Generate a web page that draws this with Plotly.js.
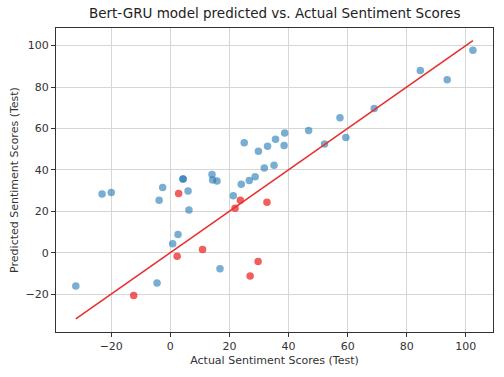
<!DOCTYPE html>
<html>
<head>
<meta charset="utf-8">
<script src="https://cdn.plot.ly/plotly-3.0.1.min.js"></script>
<style>html,body{margin:0;padding:0;background:#fff;}#chart{width:504px;height:377px;}</style>
</head>
<body>
<div id="chart"></div>
<script>
// Blue points (actual, predicted)
var blueActual = [-32.0, -23.1, -20.0, -4.5, -3.8, -2.6, 0.8, 2.6, 4.3, 4.3, 6.0, 6.3, 14.1, 14.3, 15.8, 16.8, 21.3, 24.0, 25.0, 26.7, 28.7, 29.8, 31.8, 32.9, 35.1, 35.6, 38.5, 38.7, 46.8, 52.2, 57.4, 59.4, 69.0, 84.6, 93.7, 102.4];
var bluePred   = [-16.1, 28.3, 29.1, -14.6, 25.3, 31.5, 4.3, 8.8, 35.6, 35.6, 29.8, 20.6, 37.7, 35.1, 34.6, -7.7, 27.5, 33.0, 53.1, 34.8, 36.7, 49.0, 40.9, 51.4, 42.2, 54.8, 51.7, 57.8, 59.0, 52.5, 65.1, 55.6, 69.6, 88.0, 83.5, 97.7];
// Red points (actual, predicted)
var redActual = [-12.4, 2.3, 2.8, 10.9, 21.9, 23.7, 32.7, 29.7, 27.0];
var redPred   = [-20.7, -1.7, 28.6, 1.5, 21.4, 25.3, 24.4, -4.3, -11.2];
// Ideal line endpoints
var lineX = [-32.0, 102.4];
var lineY = [-32.0, 102.4];
var xTicks = [-20, 0, 20, 40, 60, 80, 100];
var yTicks = [-20, 0, 20, 40, 60, 80, 100];

var traces = [
  {x: blueActual, y: bluePred, mode: 'markers', type: 'scatter',
   marker: {color: 'rgba(31,119,180,0.6)', size: 7.5, line: {width: 0}}, showlegend: false},
  {x: redActual, y: redPred, mode: 'markers', type: 'scatter',
   marker: {color: 'rgba(235,40,40,0.75)', size: 7.5, line: {width: 0}}, showlegend: false},
  {x: lineX, y: lineY, mode: 'lines', type: 'scatter',
   line: {color: '#e8302e', width: 1.6}, showlegend: false}
];

var axisCommon = {
  showline: true, linecolor: '#333', linewidth: 1, mirror: true,
  ticks: 'outside', ticklen: 4, tickcolor: '#333', tickwidth: 1,
  showgrid: true, gridcolor: '#d6d6d6', gridwidth: 1,
  zeroline: false,
  tickfont: {family: 'DejaVu Sans', size: 11, color: '#333'},
  tickmode: 'array'
};

var layout = {
  width: 504, height: 377,
  margin: {l: 56, r: 11, t: 28, b: 45},
  paper_bgcolor: '#fff', plot_bgcolor: '#fff',
  title: {text: 'Bert-GRU model predicted vs. Actual Sentiment Scores',
          font: {family: 'DejaVu Sans', size: 13.5, color: '#222'},
          x: 0.545, xanchor: 'center', y: 0.965, yanchor: 'middle'},
  xaxis: Object.assign({}, axisCommon, {
    range: [-38.7, 109.2], tickvals: xTicks,
    ticktext: xTicks.map(function(v){return v < 0 ? '\u2212' + Math.abs(v) : String(v);}),
    title: {text: 'Actual Sentiment Scores (Test)', font: {family: 'DejaVu Sans', size: 11, color: '#333'}, standoff: 4}
  }),
  yaxis: Object.assign({}, axisCommon, {
    range: [-38.3, 108.5], tickvals: yTicks,
    ticktext: yTicks.map(function(v){return v < 0 ? '\u2212' + Math.abs(v) : String(v);}),
    title: {text: 'Predicted Sentiment Scores (Test)', font: {family: 'DejaVu Sans', size: 11, color: '#333'}, standoff: 4}
  })
};

Plotly.newPlot('chart', traces, layout, {displayModeBar: false, staticPlot: true});
</script>
</body>
</html>
